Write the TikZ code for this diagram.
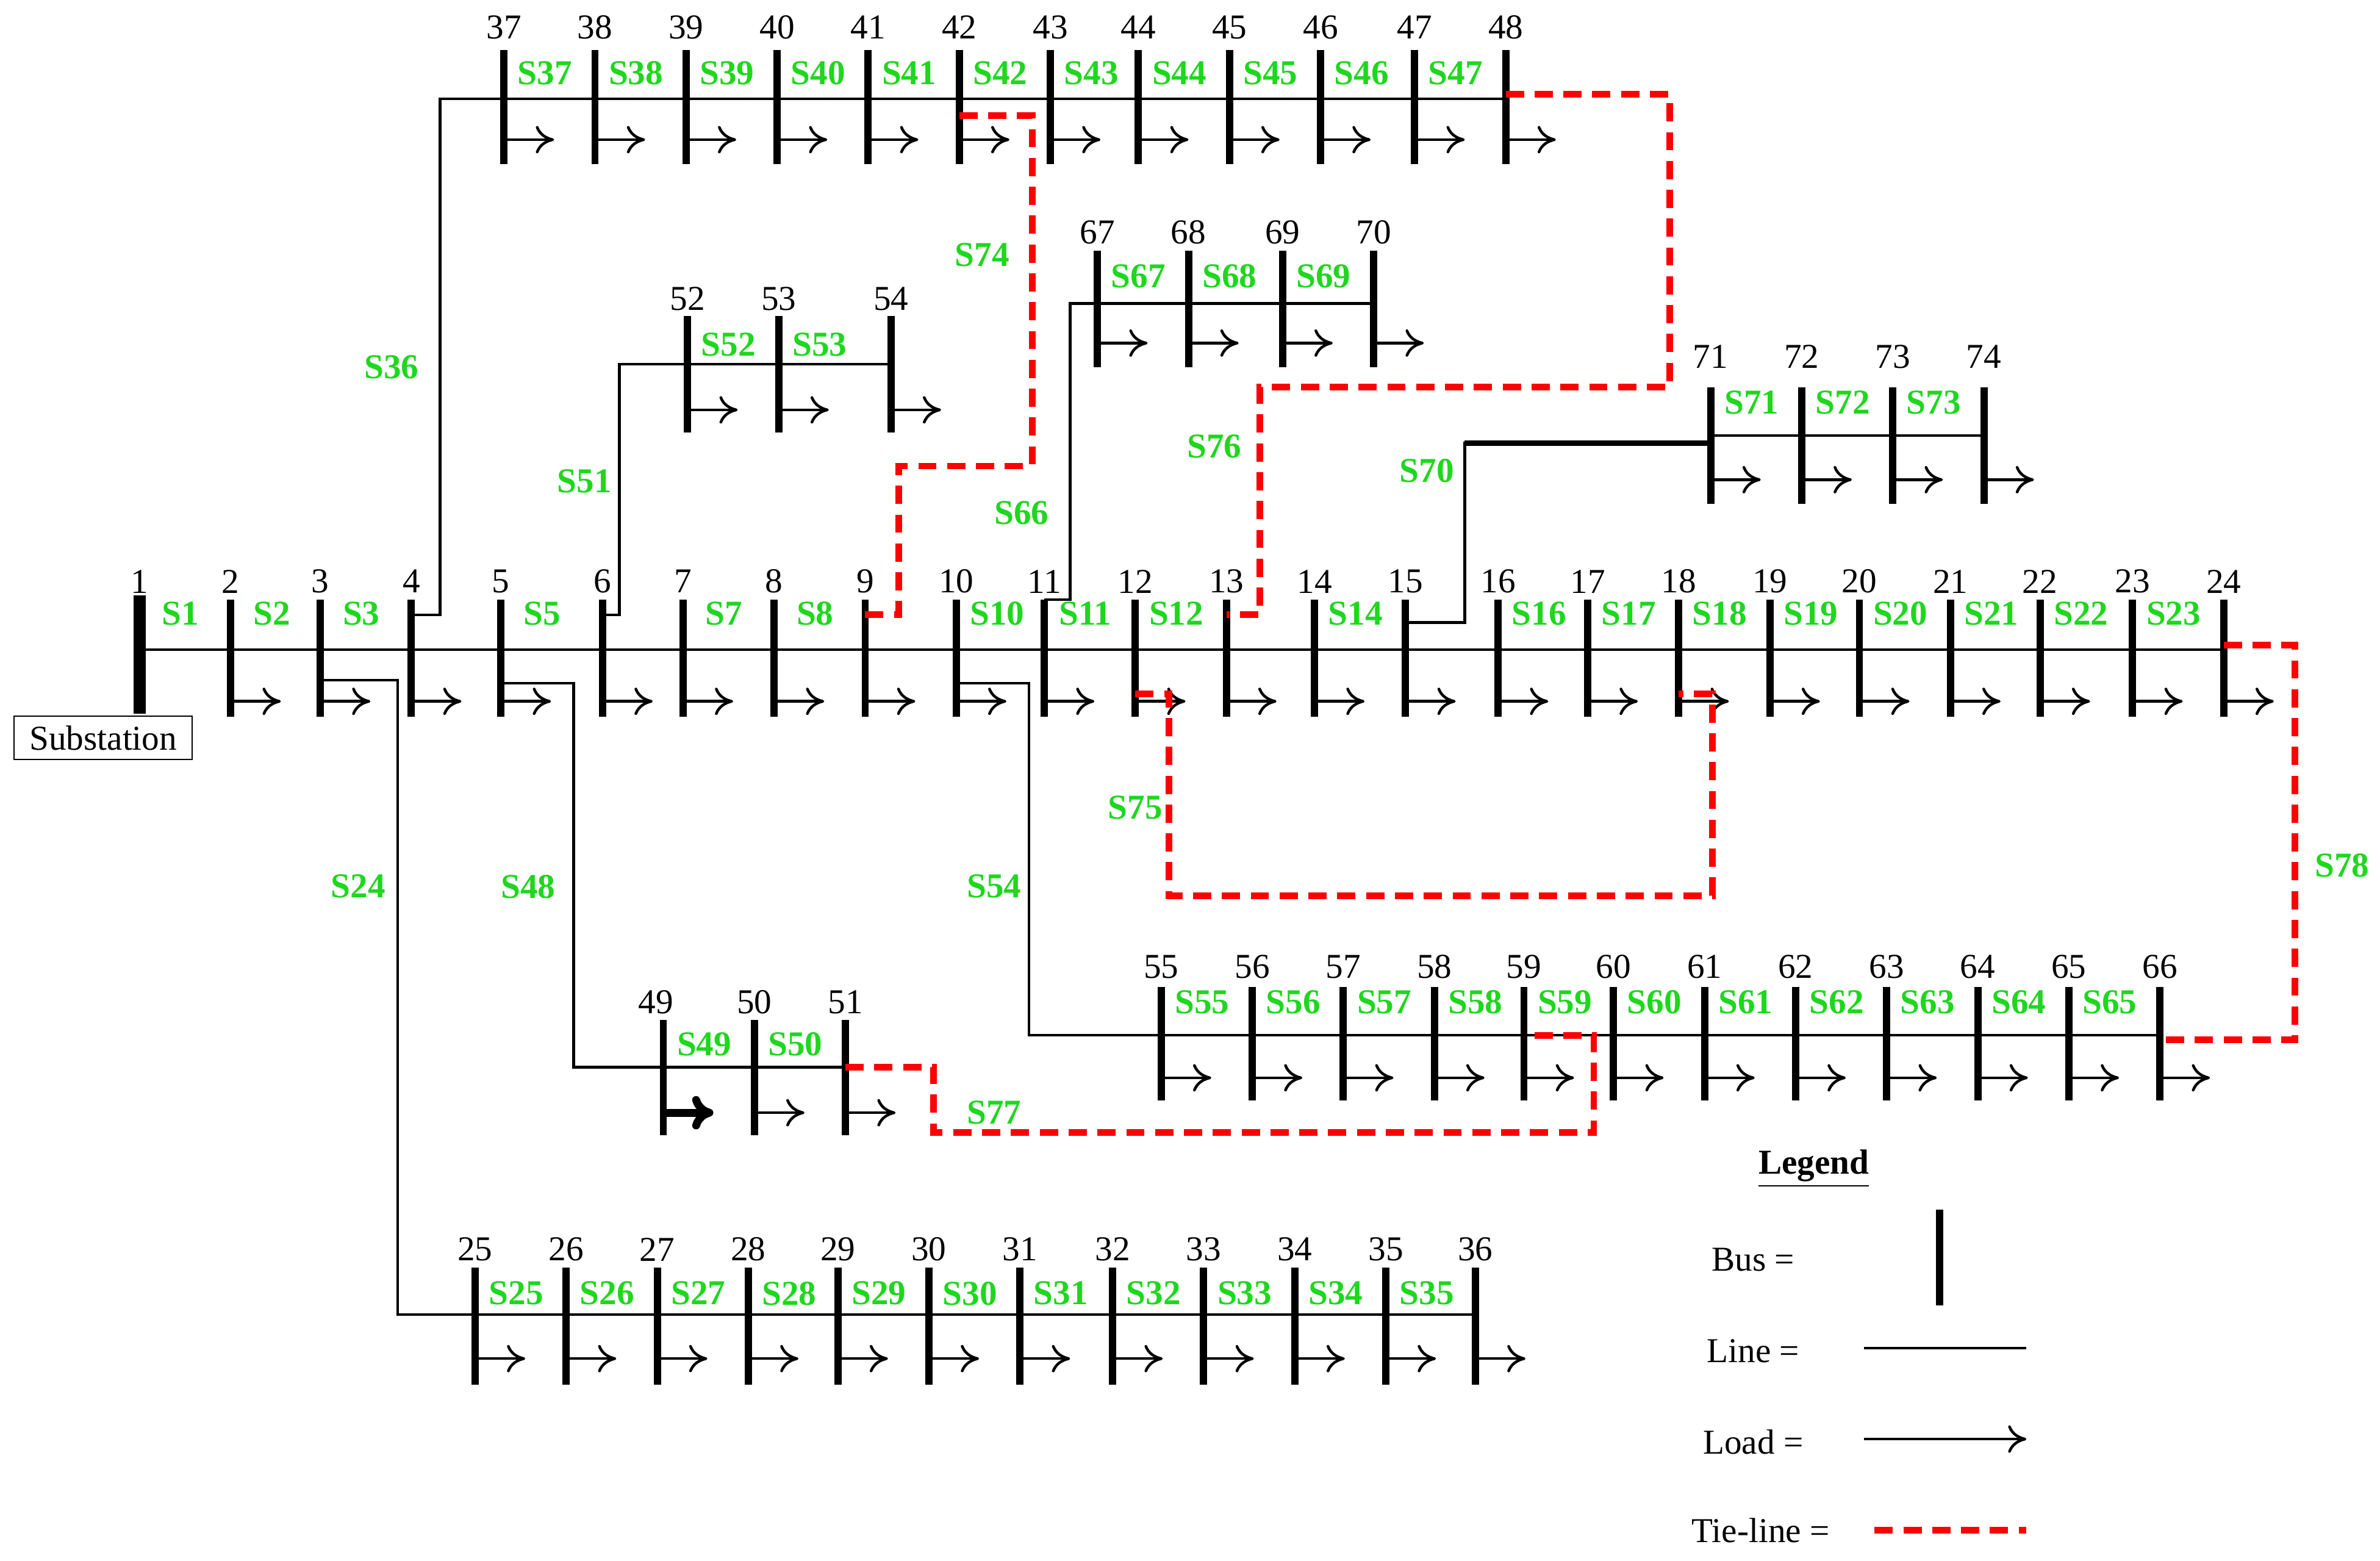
\documentclass[tikz,border=0pt]{standalone}
\usepackage{fontspec}
\setmainfont{Liberation Serif}
\usetikzlibrary{calc,arrows.meta}
\definecolor{swgreen}{RGB}{30,215,30}
\tikzset{
  bus/.style={line width=2.4pt},
  line/.style={line width=0.9pt},
  load/.style={line width=0.9pt,-{To[length=6pt,width=9pt]}},
  tie/.style={red,line width=2.2pt,dash pattern=on 6pt off 3.5pt},
  num/.style={font=\fontsize{11.5}{13}\selectfont},
  sw/.style={text=swgreen,font=\fontsize{11.5}{13}\selectfont\bfseries},
}
% one row of buses: n/x list, top, bottom, load y, number y, line y
\newcommand\feeder[6]{%
  \foreach \n/\x in {#1} {
    \coordinate (t\n) at (\x,#2);
    \coordinate (u\n) at (\x,#3);
    \coordinate (m\n) at (\x,#6);
    \draw[bus] (t\n) -- (u\n);
    \draw[load] (\x,#4) -- ++(33,0);
    \node[num] (n\n) at (\x,#5) {\n};
  }}
\newcommand\swlab[2]{\foreach \n in {#1} \node[sw] (s\n) at ($(m\n)+(27,#2)$) {S\n};}
\begin{document}
\begin{tikzpicture}[x=0.5pt,y=-0.5pt]
  \useasboundingbox (0,0) rectangle (1568,1028);

  % main feeder
  \coordinate (t1) at (92,392); \coordinate (u1) at (92,470); \coordinate (m1) at (92,428);
  \draw[line width=4pt] (t1) -- (u1);
  \node[num] (n1) at (92,383) {1};
  \node[draw,inner xsep=5pt,inner ysep=3pt,font=\fontsize{11.5}{13}\selectfont] (sub) at (68,486) {Substation};
  \feeder{2/152,3/211,4/271,5/330,6/397,7/450,8/510,9/570,10/630,11/688,12/748,13/808,14/866,15/926,16/987,17/1046,18/1106,19/1166,20/1225,21/1285,22/1344,23/1405,24/1465}{395}{472}{462}{383}{428}
  \draw[line] (m1) -- (m24);
  \swlab{1,2,3,5,7,8,10,11,12,14,16,17,18,19,20,21,22,23}{-24}

  % laterals
  \feeder{37/332,38/392,39/452,40/512,41/572,42/632,43/692,44/750,45/810,46/870,47/932,48/992}{33}{108}{92}{18}{65}
  \draw[line] (m37) -- (m48);
  \swlab{37,38,39,40,41,42,43,44,45,46,47}{-17}
  \draw[line] ([yshift=11.5pt]m4) -- ++(19,0) |- (m37);

  \feeder{52/453,53/513,54/587}{208}{285}{270}{197}{240}
  \draw[line] (m52) -- (m54);
  \swlab{52,53}{-13}
  \draw[line] ([yshift=11.5pt]m6) -- ++(11,0) |- (m52);

  \feeder{67/723,68/783,69/845,70/905}{165}{242}{226}{153}{200}
  \draw[line] (m67) -- (m70);
  \swlab{67,68,69}{-18}
  \draw[line] ([yshift=16.5pt]m11) -- ++(17,0) |- (m67);

  \feeder{71/1127,72/1187,73/1247,74/1307}{255}{332}{316}{235}{287}
  \draw[line] (m71) -- (m74);
  \swlab{71,72,73}{-22}
  \draw[line] ([yshift=9pt]m15) -- ++(39,0) |- ([yshift=-2.5pt]m71);
  \draw[line width=1.8pt] ([xshift=-81pt,yshift=-2.5pt]m71) -- ([yshift=-2.5pt]m71);

  \feeder{25/313,26/373,27/433,28/493,29/552,30/612,31/672,32/733,33/793,34/853,35/913,36/972}{835}{912}{895}{823}{866}
  \draw[line] (m25) -- (m36);
  \swlab{25,26,27,28,29,30,31,32,33,34,35}{-14}
  \draw[line] ([yshift=-10pt]m3) -- ++(51,0) |- (m25);

  \feeder{50/497,51/557}{672}{748}{733}{660}{703}
  \coordinate (t49) at (437,672); \coordinate (u49) at (437,748); \coordinate (m49) at (437,703);
  \draw[bus] (t49) -- (u49);
  \draw[line width=2.6pt,-{To[length=7pt,width=11pt]}] (437,733) -- ++(33,0);
  \node[num] (n49) at (432,660) {49};
  \draw[line] (m49) -- (m51);
  \swlab{49,50}{-15}
  \draw[line] ([yshift=-11pt]m5) -- ++(48,0) |- (m49);

  \feeder{55/765,56/825,57/885,58/945,59/1004,60/1063,61/1123,62/1183,63/1243,64/1303,65/1363,66/1423}{650}{725}{710}{637}{682}
  \draw[line] (m55) -- (m66);
  \swlab{55,56,57,58,59,60,61,62,63,64,65}{-22}
  \draw[line] ([yshift=-11pt]m10) -- ++(48,0) |- (m55);

  % section labels of laterals
  \node[sw] (s36) at (258,242) {S36};
  \node[sw] (s51) at (385,317) {S51};
  \node[sw] (s66) at (673,338) {S66};
  \node[sw] (s70) at (940,310) {S70};
  \node[sw] (s24) at (236,584) {S24};
  \node[sw] (s48) at (348,584) {S48};
  \node[sw] (s54) at (655,584) {S54};

  % tie-lines
  \draw[tie] ([yshift=-5.5pt]m42) -- ++(48,0) -- ++(0,231) -- ++(-88,0) |- ([yshift=11.5pt]m9);
  \draw[tie] ([yshift=1.5pt]m48) -- ++(108,0) -- ++(0,193) -- ++(-270,0) |- ([yshift=11.5pt]m13);
  \draw[tie] ([yshift=-14.5pt]m12) -- ++(22,0) -- ++(0,133) -| ([xshift=11pt,yshift=-14.5pt]m18) -- ([yshift=-14.5pt]m18);
  \draw[tie] ([yshift=1.5pt]m24) -- ++(47,0) |- ([yshift=-1.5pt]m66);
  \draw[tie] (m51) -- ++(58,0) -- ++(0,43) -| ([xshift=23pt]m59) -- (m59);
  \node[sw] (s74) at (647,168) {S74};
  \node[sw] (s76) at (800,294) {S76};
  \node[sw] (s75) at (748,532) {S75};
  \node[sw] (s78) at (1543,570) {S78};
  \node[sw] (s77) at (655,733) {S77};

  % legend
  \node[font=\fontsize{11.5}{13}\selectfont\bfseries] (leg) at (1195,770) {\underline{Legend}};
  \node[num] (lbus) at (1155,830) {Bus =};
  \node[num] (lline) at (1155,890) {Line =};
  \node[num] (lload) at (1155,950) {Load =};
  \node[num] (ltie) at (1160,1008) {Tie-line =};
  \coordinate (bt) at (1278,797); \coordinate (bb) at (1278,860);
  \draw[bus] (bt) -- (bb);
  \coordinate (la) at (1228,888); \coordinate (lb) at (1335,888);
  \draw[line] (la) -- (lb);
  \coordinate (oa) at (1228,948); \coordinate (ob) at (1335,948);
  \draw[load] (oa) -- (ob);
  \coordinate (ta) at (1235,1008); \coordinate (tb) at (1335,1008);
  \draw[tie] (ta) -- (tb);
\end{tikzpicture}
\end{document}
